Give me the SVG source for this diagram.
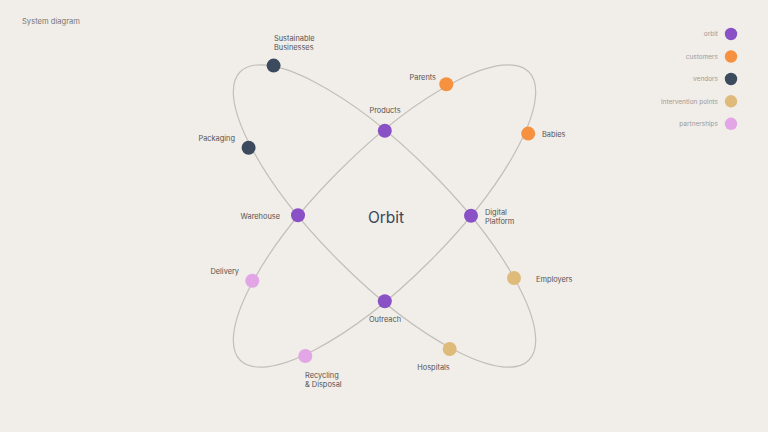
<svg xmlns="http://www.w3.org/2000/svg" width="768" height="432" viewBox="0 0 768 432">
<style>
text{font-family:Inter,"Liberation Sans",sans-serif}
.lbl{font-size:7.4px;fill:#555453}
.leg{font-size:6.5px;fill:#9d9a97;text-anchor:end}
.orbit{fill:none;stroke:#c2beb9;stroke-width:1.2}
.o{fill:#8a50c6}.c{fill:#f5913f}.v{fill:#3c4a5d}.i{fill:#dfbb7b}.p{fill:#e2a5e5}
</style>
<rect width="768" height="432" fill="#f1ede8"/>
<text x="22" y="24" style="font-size:7.6px;fill:#7a7774">System diagram</text>
<g id="connectors">
<ellipse class="orbit" cx="384.5" cy="216" rx="204" ry="64" transform="rotate(45 384.5 216)"/>
<ellipse class="orbit" cx="384.5" cy="216" rx="204" ry="64" transform="rotate(-45 384.5 216)"/>
</g>
<text x="386" y="223" text-anchor="middle" style="font-size:15.5px;fill:#3a4659">Orbit</text>
<g id="products"><circle class="o" cx="384.8" cy="130.8" r="7"/><text class="lbl" x="385" y="113" text-anchor="middle">Products</text></g>
<g id="warehouse"><circle class="o" cx="298" cy="215.2" r="7"/><text class="lbl" x="280" y="219" text-anchor="end">Warehouse</text></g>
<g id="digital-platform"><circle class="o" cx="471" cy="215.8" r="7"/><text class="lbl" x="485" y="215">Digital</text><text class="lbl" x="485" y="224">Platform</text></g>
<g id="outreach"><circle class="o" cx="384.8" cy="301.2" r="7"/><text class="lbl" x="385" y="322" text-anchor="middle">Outreach</text></g>
<g id="sustainable-businesses"><circle class="v" cx="273.6" cy="65.6" r="7"/><text class="lbl" x="274" y="41">Sustainable</text><text class="lbl" x="274" y="50">Businesses</text></g>
<g id="packaging"><circle class="v" cx="248.6" cy="147.8" r="7"/><text class="lbl" x="235" y="141" text-anchor="end">Packaging</text></g>
<g id="parents"><circle class="c" cx="446.3" cy="84.3" r="7"/><text class="lbl" x="436" y="80" text-anchor="end">Parents</text></g>
<g id="babies"><circle class="c" cx="528.2" cy="133.6" r="7"/><text class="lbl" x="542" y="137">Babies</text></g>
<g id="delivery"><circle class="p" cx="252.3" cy="280.7" r="7"/><text class="lbl" x="239" y="273.5" text-anchor="end">Delivery</text></g>
<g id="recycling-disposal"><circle class="p" cx="305.3" cy="356" r="7"/><text class="lbl" x="305" y="378">Recycling</text><text class="lbl" x="305" y="387">&amp; Disposal</text></g>
<g id="hospitals"><circle class="i" cx="449.7" cy="349" r="7"/><text class="lbl" x="433.5" y="370" text-anchor="middle">Hospitals</text></g>
<g id="employers"><circle class="i" cx="514" cy="278" r="7"/><text class="lbl" x="536" y="282">Employers</text></g>
<g id="legend">
<circle class="o" cx="731" cy="34" r="6.2"/><text class="leg" x="718" y="36.3">orbit</text>
<circle class="c" cx="731" cy="56.5" r="6.2"/><text class="leg" x="718" y="58.8">customers</text>
<circle class="v" cx="731" cy="79" r="6.2"/><text class="leg" x="718" y="81.3">vendors</text>
<circle class="i" cx="731" cy="101.3" r="6.2"/><text class="leg" x="718" y="103.6">intervention points</text>
<circle class="p" cx="731" cy="123.8" r="6.2"/><text class="leg" x="718" y="126.1">partnerships</text>
</g>
</svg>
